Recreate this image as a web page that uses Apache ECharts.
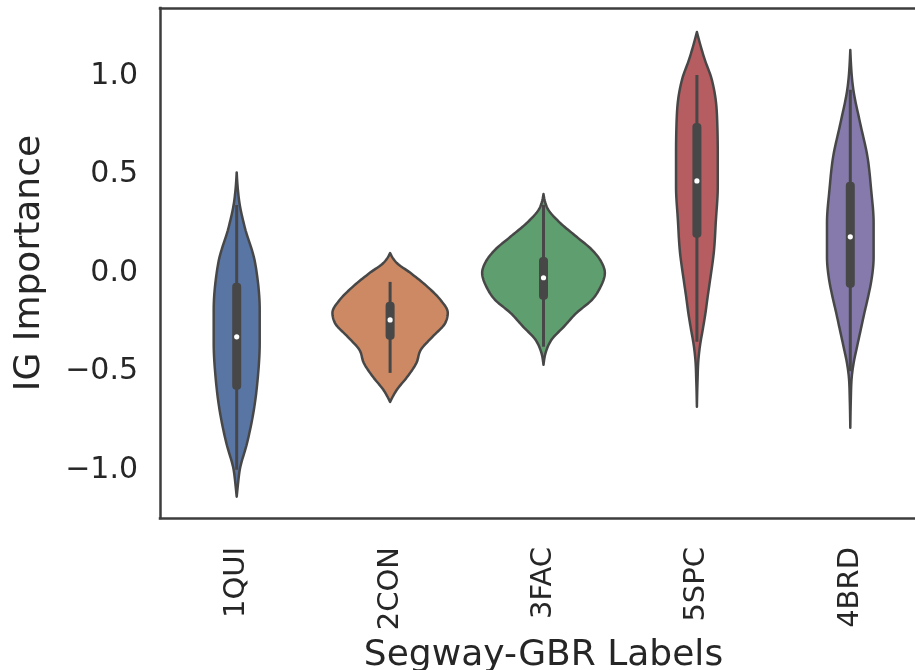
<!DOCTYPE html>
<html>
<head>
<meta charset="utf-8">
<script src="https://cdn.jsdelivr.net/npm/echarts@6/dist/echarts.min.js"></script>
<style>
html,body{margin:0;padding:0;background:#fff;}
#chart{width:915px;height:670px;}
</style>
</head>
<body>
<div id="chart"></div>
<script>
// ---- data ----
const categories = ['1QUI', '2CON', '3FAC', '5SPC', '4BRD'];
const yTicks = [-1.0, -0.5, 0.0, 0.5, 1.0];

// KDE outlines: values along y and relative density (1 = widest violin)
const quiY = [0.51, 0.42, 0.355, 0.233, 0.066, -0.02, -0.188, -0.355, -0.528, -0.695, -0.863, -1.0, -1.076, -1.137];
const quiD = [0, 0.02, 0.045, 0.13, 0.29, 0.335, 0.375, 0.375, 0.345, 0.28, 0.17, 0.05, 0.02, 0];
const conY = [0.10, 0.05, 0.0, -0.071, -0.137, -0.203, -0.254, -0.325, -0.391, -0.457, -0.528, -0.594, -0.655];
const conD = [0, 0.11, 0.33, 0.61, 0.82, 0.94, 0.90, 0.69, 0.50, 0.43, 0.28, 0.11, 0];
const facY = [0.40, 0.32, 0.254, 0.183, 0.117, 0.051, 0.0, -0.071, -0.137, -0.203, -0.274, -0.34, -0.391, -0.467];
const facD = [0, 0.08, 0.27, 0.54, 0.79, 0.95, 1.0, 0.93, 0.79, 0.54, 0.33, 0.13, 0.05, 0];
const spcY = [1.223, 1.147, 1.081, 0.995, 0.893, 0.777, 0.609, 0.437, 0.269, 0.102, -0.036, -0.122, -0.203, -0.289, -0.36, -0.44, -0.55, -0.68];
const spcD = [0, 0.066, 0.13, 0.23, 0.30, 0.33, 0.34, 0.34, 0.31, 0.275, 0.215, 0.175, 0.14, 0.095, 0.055, 0.025, 0.01, 0];
const brdY = [1.132, 0.929, 0.761, 0.589, 0.421, 0.254, 0.081, -0.036, -0.122, -0.203, -0.289, -0.375, -0.457, -0.543, -0.65, -0.787];
const brdD = [0, 0.05, 0.16, 0.28, 0.34, 0.38, 0.38, 0.345, 0.29, 0.23, 0.17, 0.11, 0.055, 0.02, 0.008, 0];

// inner box statistics
const whiskerLow  = [-1.0, -0.508, -0.375, -0.35, -0.5];
const q1          = [-0.594, -0.340, -0.137, 0.178, -0.076];
const medians     = [-0.325, -0.239, -0.025, 0.467, 0.183];
const q3          = [-0.05, -0.147, 0.081, 0.761, 0.462];
const whiskerHigh = [0.345, -0.046, 0.345, 1.005, 0.93];

const colors = ['#5975a4', '#cc8963', '#5f9e6e', '#b55d60', '#857aab'];
const outlines = [[quiY, quiD], [conY, conD], [facY, facD], [spcY, spcD], [brdY, brdD]];

const FONT = 'DejaVu Sans';
const TEXT = '#262626';
const GRAY = '#474747';
const SPINE = { show: true, onZero: false, lineStyle: { color: '#3d3d3d', width: 2.5, cap: 'square' } };

// monotone cubic (x as a function of screen y) sampled for drawing
function monoSlopes(ys, xs) {
  const n = ys.length, m = new Array(n).fill(0);
  for (let i = 1; i < n - 1; i++) {
    const h0 = ys[i] - ys[i - 1], h1 = ys[i + 1] - ys[i];
    const s0 = (xs[i] - xs[i - 1]) / h0, s1 = (xs[i + 1] - xs[i]) / h1;
    const p = (s0 * h1 + s1 * h0) / (h0 + h1);
    m[i] = (Math.sign(s0) + Math.sign(s1)) * Math.min(Math.abs(s0), Math.abs(s1), 0.5 * Math.abs(p)) || 0;
  }
  const sa = (xs[1] - xs[0]) / (ys[1] - ys[0]);
  const sb = (xs[n - 1] - xs[n - 2]) / (ys[n - 1] - ys[n - 2]);
  m[0] = n > 2 ? (3 * sa - m[1]) / 2 : sa;
  m[n - 1] = n > 2 ? (3 * sb - m[n - 2]) / 2 : sb;
  return m;
}
function sampleCurve(ys, xs) {
  const m = monoSlopes(ys, xs);
  const out = [];
  const steps = 10;
  for (let i = 0; i < ys.length - 1; i++) {
    const h = ys[i + 1] - ys[i];
    for (let k = 0; k < steps; k++) {
      const t = k / steps;
      const h00 = 2 * t * t * t - 3 * t * t + 1, h10 = t * t * t - 2 * t * t + t;
      const h01 = -2 * t * t * t + 3 * t * t, h11 = t * t * t - t * t;
      const x = h00 * xs[i] + h10 * h * m[i] + h01 * xs[i + 1] + h11 * h * m[i + 1];
      out.push([x, ys[i] + t * h]);
    }
  }
  out.push([xs[xs.length - 1], ys[ys.length - 1]]);
  return out;
}

function renderViolin(params, api) {
  const idx = api.value(0);
  const vals = outlines[idx][0], ds = outlines[idx][1];
  const cx = api.coord([idx, 0])[0];
  const band = api.size([1, 0])[0];
  const maxHalf = band * 0.4;
  const sy = vals.map(function (v) { return api.coord([idx, v])[1]; });
  const half = ds.map(function (d) { return d * maxHalf; });
  const hs = sampleCurve(sy, half).map(function (p) { return [Math.max(0, p[0]), p[1]]; });
  const right = hs.map(function (p) { return [cx + p[0], p[1]]; });
  const left = hs.map(function (p) { return [cx - p[0], p[1]]; });
  const pts = right.concat(left.slice(1, -1).reverse());
  const yLo = api.coord([idx, whiskerLow[idx]])[1];
  const yHi = api.coord([idx, whiskerHigh[idx]])[1];
  const yQ1 = api.coord([idx, q1[idx]])[1];
  const yQ3 = api.coord([idx, q3[idx]])[1];
  const yMed = api.coord([idx, medians[idx]])[1];
  const bw = 9;
  return {
    type: 'group',
    children: [
      { type: 'polygon', shape: { points: pts },
        style: { fill: colors[idx], stroke: GRAY, lineWidth: 2.5, lineJoin: 'round' } },
      { type: 'line', shape: { x1: cx, y1: yHi, x2: cx, y2: yLo },
        style: { stroke: GRAY, lineWidth: 3 } },
      { type: 'rect', shape: { x: cx - bw / 2, y: yQ3, width: bw, height: yQ1 - yQ3, r: 4 },
        style: { fill: GRAY } },
      { type: 'circle', shape: { cx: cx, cy: yMed, r: 2.6 },
        style: { fill: '#ffffff' } }
    ]
  };
}

const chart = echarts.init(document.getElementById('chart'));
chart.setOption({
  animation: false,
  backgroundColor: '#ffffff',
  grid: {
    left: 160, top: 8, width: 767, height: 510,
    outerBoundsMode: 'none',
    containLabel: false,
    show: false
  },
  xAxis: [{
    type: 'category',
    data: categories,
    boundaryGap: true,
    position: 'bottom',
    axisLine: SPINE,
    axisTick: { show: false },
    splitLine: { show: false },
    axisLabel: { rotate: 90, margin: 29, fontFamily: FONT, fontSize: 29, color: TEXT, interval: 0 },
    name: 'Segway-GBR Labels',
    nameLocation: 'middle',
    nameGap: 108,
    nameTextStyle: { fontFamily: FONT, fontSize: 36, color: TEXT }
  }, {
    type: 'category',
    data: categories,
    position: 'top',
    axisLine: SPINE,
    axisTick: { show: false },
    axisLabel: { show: false },
    splitLine: { show: false }
  }],
  yAxis: {
    type: 'value',
    min: -1.245,
    max: 1.345,
    axisLine: SPINE,
    axisTick: { show: false },
    splitLine: { show: false },
    axisLabel: {
      customValues: yTicks,
      margin: 22,
      fontFamily: FONT, fontSize: 30, color: TEXT,
      formatter: function (v) { return (v < 0 ? '\u2212' : '') + Math.abs(v).toFixed(1); }
    },
    name: 'IG Importance',
    nameLocation: 'middle',
    nameRotate: 90,
    nameGap: 112,
    nameTextStyle: { fontFamily: FONT, fontSize: 36, color: TEXT }
  },
  series: [{
    type: 'custom',
    renderItem: renderViolin,
    encode: { x: 0, y: 1 },
    data: categories.map(function (c, i) { return [i, medians[i]]; }),
    clip: false
  }]
});
</script>
</body>
</html>
